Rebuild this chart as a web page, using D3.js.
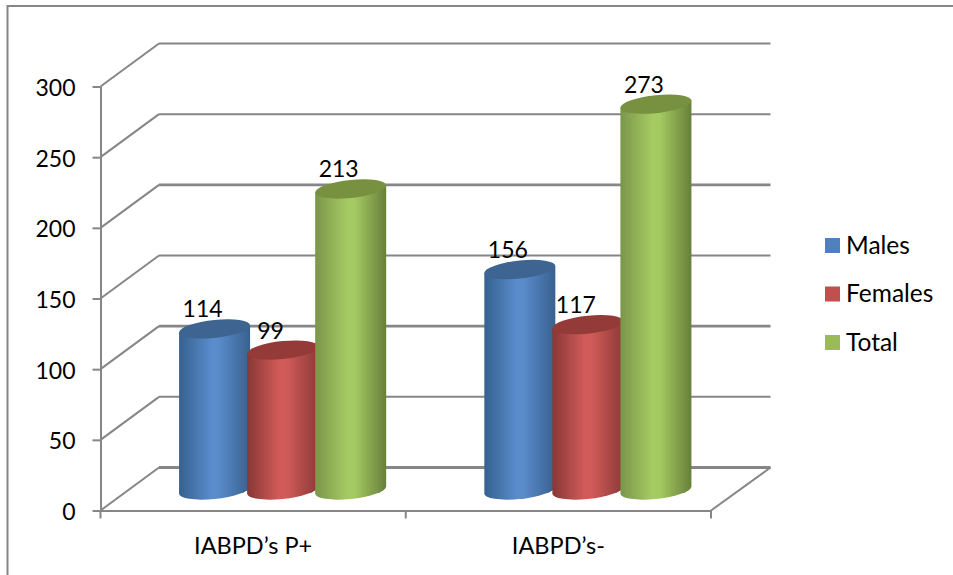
<!DOCTYPE html>
<html>
<head>
<meta charset="utf-8">
<script src="https://cdnjs.cloudflare.com/ajax/libs/d3/7.8.5/d3.min.js"></script>
<style>
  html, body { margin: 0; padding: 0; background: #fff; }
  text { font-family: Lato, "Open Sans", sans-serif; fill: #000; }
</style>
</head>
<body>
<div id="viz"></div>
<script>
const categories = ['IABPD’s P+', 'IABPD’s-'];
const seriesNames = ['Males', 'Females', 'Total'];
const males = [114, 156];
const females = [99, 117];
const total = [213, 273];
const yTicks = [0, 50, 100, 150, 200, 250, 300];

const seriesValues = { Males: males, Females: females, Total: total };
const colors = {
  Males: { left: '#35618f', mid: '#5a8bcb', right: '#37618f', top: '#3e6591', key: '#4f81bd' },
  Females: { left: '#873735', mid: '#d15b58', right: '#8c3a38', top: '#943a38', key: '#c0504d' },
  Total: { left: '#7a964a', mid: '#a6ca62', right: '#67803a', top: '#789140', key: '#9bbb59' }
};

const width = 953;
const height = 575;
const plot = { left: 100.5, right: 711, top: 86.5, bottom: 510.5 };
const depth = { x: 58.5, y: -43 };     // offset of the back wall
const barShift = { x: 29.5, y: -20.5 }; // cylinders stand mid way on the floor
const radius = 35.5;
const ellipseRy = 9;
const skew = -0.1;
const gridColor = '#868686';
const fontSize = 23;
const legendFontSize = 24.5;

const svg = d3.select('#viz')
  .append('svg')
    .attr('width', width)
    .attr('height', height)
    .style('display', 'block');

// Scales
const scaleY = d3.scaleLinear()
  .domain([0, 300])
  .range([plot.bottom, plot.top]);

const scaleX = d3.scaleBand()
  .domain(categories)
  .range([plot.left, plot.right]);

const scaleSeries = d3.scaleBand()
  .domain(seriesNames)
  .range([0, scaleX.bandwidth()])
  .paddingOuter(0.743);

// Gradients for the cylinder sides
const defs = svg.append('defs');
seriesNames.forEach(name => {
  const gradient = defs.append('linearGradient')
    .attr('id', `side-${name}`)
    .attr('x1', 0).attr('x2', 1).attr('y1', 0).attr('y2', 0);
  gradient.append('stop').attr('offset', '0%').attr('stop-color', colors[name].left);
  gradient.append('stop').attr('offset', '45%').attr('stop-color', colors[name].mid);
  gradient.append('stop').attr('offset', '55%').attr('stop-color', colors[name].mid);
  gradient.append('stop').attr('offset', '100%').attr('stop-color', colors[name].right);
});

// Outer frame, only the top and left edges show
svg.append('path')
  .attr('d', `M7.5,${height}V6H${width}`)
  .attr('fill', 'none')
  .attr('stroke', gridColor)
  .attr('stroke-width', 2);

// Grid lines on the side and back walls
const grid = svg.append('g')
  .attr('fill', 'none')
  .attr('stroke', gridColor)
  .attr('stroke-width', 2);

grid.selectAll('.side')
  .data(yTicks)
  .join('path')
    .attr('class', 'side')
    .attr('d', d => `M${plot.left},${scaleY(d)}l${depth.x},${depth.y}`);

// the back lines at 0, 100 and 200 come out a bit heavier in the picture
grid.selectAll('.back')
  .data(yTicks)
  .join('line')
    .attr('class', 'back')
    .attr('x1', plot.left + depth.x)
    .attr('x2', plot.right + depth.x + 1)
    .attr('y1', d => scaleY(d) + depth.y)
    .attr('y2', d => scaleY(d) + depth.y)
    .attr('stroke-width', d => (d % 100 === 0 && d < 300) ? 2.8 : 2);

// Right edge of the floor
grid.append('line')
  .attr('x1', plot.right)
  .attr('y1', plot.bottom)
  .attr('x2', plot.right + depth.x + 1)
  .attr('y2', plot.bottom + depth.y);

// Axes
const axisLeft = d3.axisLeft(scaleY)
  .tickValues(yTicks)
  .tickSize(8)
  .tickPadding(17)
  .tickSizeOuter(0);
const yAxis = svg.append('g')
  .attr('transform', `translate(${plot.left},0)`)
  .call(axisLeft);

const axisBottom = d3.axisBottom(scaleX).tickSize(0).tickPadding(26.5);
const xAxis = svg.append('g')
  .attr('transform', `translate(0,${plot.bottom})`)
  .call(axisBottom);

// tick marks sit between the categories
xAxis.selectAll('.boundary')
  .data([plot.left, plot.left + scaleX.step(), plot.right])
  .join('line')
    .attr('class', 'boundary')
    .attr('x1', d => d).attr('x2', d => d)
    .attr('y1', 0).attr('y2', 8);

[yAxis, xAxis].forEach(axis => {
  axis.attr('font-family', null).attr('font-size', null);
  axis.selectAll('.domain, line')
    .attr('stroke', gridColor)
    .attr('stroke-width', 2);
  axis.selectAll('text')
    .style('font-size', `${fontSize}px`);
});
yAxis.selectAll('text').attr('dy', '0.39em');
xAxis.selectAll('text').style('font-size', '23.5px');

// Flat rows for the cylinders, in drawing order
const rows = [];
categories.forEach((category, i) => {
  seriesNames.forEach(name => {
    rows.push({ category, name, value: seriesValues[name][i] });
  });
});

const barX = d => scaleX(d.category) + scaleSeries(d.name) + scaleSeries.bandwidth() / 2 + barShift.x;
const barHeight = d => scaleY(0) - scaleY(d.value);

const bars = svg.append('g')
  .selectAll('g')
  .data(rows)
  .join('g')
    .attr('transform', d => `matrix(1,${skew},0,1,${barX(d)},${scaleY(0) + barShift.y})`);

bars.append('path')
  .attr('d', d => `M${-radius},${-barHeight(d)}V0A${radius},${ellipseRy} 0 0 0 ${radius},0V${-barHeight(d)}Z`)
  .attr('fill', d => `url(#side-${d.name})`);

bars.append('ellipse')
  .attr('cx', 0)
  .attr('cy', d => -barHeight(d))
  .attr('rx', radius)
  .attr('ry', ellipseRy)
  .attr('fill', d => colors[d.name].top);

// Value labels
svg.append('g')
  .selectAll('text')
  .data(rows)
  .join('text')
    .attr('x', d => barX(d) - 12)
    .attr('y', d => scaleY(d.value) + barShift.y - 11.5)
    .attr('text-anchor', 'middle')
    .style('font-size', `${fontSize}px`)
    .text(d => d.value);

// Legend
const scaleLegend = d3.scalePoint()
  .domain(seriesNames)
  .range([245.5, 342.5]);

const legend = svg.append('g')
  .selectAll('g')
  .data(seriesNames)
  .join('g')
    .attr('transform', d => `translate(825,${scaleLegend(d)})`);

legend.append('rect')
  .attr('y', -7.5)
  .attr('width', 15)
  .attr('height', 15)
  .attr('fill', d => colors[d].key);

legend.append('text')
  .attr('x', 21)
  .attr('y', 8)
  .style('font-size', `${legendFontSize}px`)
  .text(d => d);
</script>
</body>
</html>
